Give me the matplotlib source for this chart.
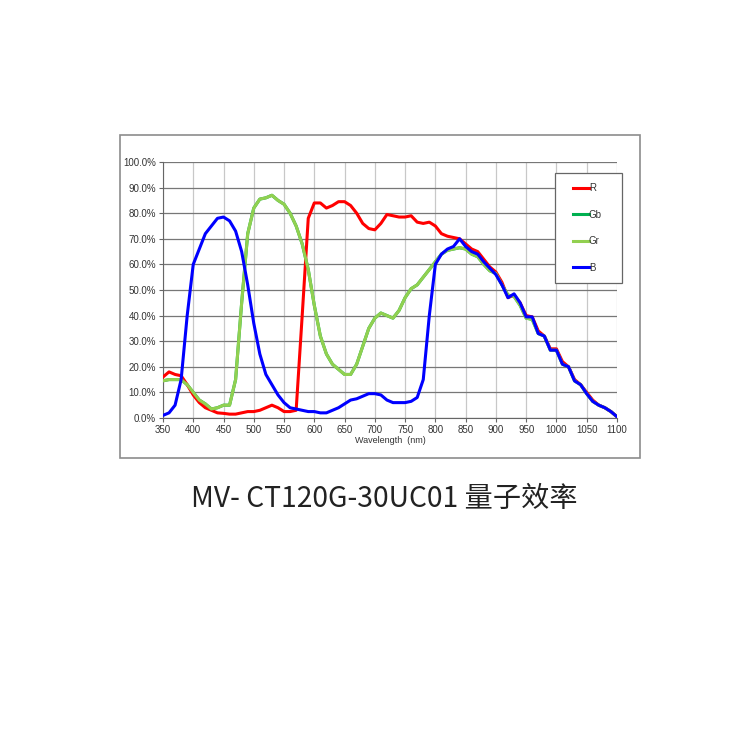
import matplotlib.pyplot as plt
from matplotlib.patches import Rectangle

# wavelength (nm) and quantum efficiency (%)
wl = [350, 360, 370, 380, 390, 400, 410, 420, 430, 440, 450, 460, 470, 480, 490,
      500, 510, 520, 530, 540, 550, 560, 570, 580, 590, 600, 610, 620, 630, 640,
      650, 660, 670, 680, 690, 700, 710, 720, 730, 740, 750, 760, 770, 780, 790,
      800, 810, 820, 830, 840, 850, 860, 870, 880, 890, 900, 910, 920, 930, 940,
      950, 960, 970, 980, 990, 1000, 1010, 1020, 1030, 1040, 1050, 1060, 1070,
      1080, 1090, 1100]

red = [16, 18, 17, 16.5, 13, 9, 6, 4, 3, 2, 1.8, 1.5, 1.5, 2, 2.5,
       2.5, 3, 4, 5, 4, 2.5, 2.5, 3, 40, 78, 84, 84, 82, 83, 84.5,
       84.5, 83, 80, 76, 74, 73.5, 76, 79.5, 79, 78.5, 78.5, 79, 76.5, 76, 76.5,
       75, 72, 71, 70.5, 70, 68, 66, 65, 62, 59, 57, 53, 47, 48, 45,
       40, 39.5, 34, 32, 27, 27, 22, 20, 15, 13, 10, 7, 5,
       4, 2.5, 0.5]

gr = [14.5, 15, 15, 15, 13, 10, 7, 5.5, 3.5, 4, 5, 5, 15, 45, 72,
      82, 85.5, 86, 87, 85, 83.5, 80, 75, 68, 58, 44, 32, 25, 21, 19,
      17, 17, 21, 28, 35, 39, 41, 40, 39, 42, 47, 50.5, 52, 55, 58,
      61, 64, 65.5, 66, 66.5, 66, 64, 63, 60, 57.5, 56.5, 52, 48, 47.5, 44,
      39, 38.5, 33, 32, 26.5, 26.5, 21, 20, 14.5, 13, 9.5, 6.5, 5,
      4, 2.5, 0.5]

gb = list(gr)

blue = [1, 2, 5, 15, 40, 60, 66, 72, 75, 78, 78.5, 77, 73, 65, 52,
        37, 25, 17, 13, 9, 6, 4, 3.5, 3, 2.5, 2.5, 2, 2, 3, 4,
        5.5, 7, 7.5, 8.5, 9.5, 9.5, 9, 7, 6, 6, 6, 6.5, 8, 15, 40,
        60, 64, 66, 67, 70, 67, 65, 64, 61, 58.5, 56, 52, 47, 48.5, 45,
        39.5, 39.5, 33, 32, 26.5, 26.5, 21, 20, 14.5, 13, 9.5, 6.5, 5,
        4, 2.5, 0.5]

xticks = list(range(350, 1101, 50))
yticks = list(range(0, 101, 10))

small_font = ['Liberation Sans Narrow', 'Liberation Sans', 'DejaVu Sans']

fig = plt.figure(figsize=(7.5, 7.5), dpi=100)
fig.patches.append(Rectangle((0.16, 0.3893), 0.6933, 0.4307, transform=fig.transFigure,
                             fill=False, edgecolor='#8c8c8c', linewidth=1.2))

ax = fig.add_axes([0.2173, 0.4427, 0.6053, 0.3413])
ax.plot(wl, red, color='#ff0000', lw=2.2, label='R', zorder=3)
ax.plot(wl, gb, color='#00b050', lw=2.2, label='Gb', zorder=2)
ax.plot(wl, gr, color='#92d050', lw=2.2, label='Gr', zorder=3)
ax.plot(wl, blue, color='#0000ff', lw=2.2, label='B', zorder=4)

ax.set_xlim(350, 1100)
ax.set_ylim(0, 100)
ax.set_xticks(xticks)
ax.set_yticks(yticks)
ax.set_xticklabels([str(t) for t in xticks], family=small_font, fontsize=7, color='#333333')
ax.set_yticklabels([f'{t:.1f}%' for t in yticks], family=small_font, fontsize=7, color='#333333')
ax.tick_params(axis='both', length=3, color='#666666', pad=2)
ax.xaxis.grid(True, color='#c8c8c8', lw=0.9)
ax.yaxis.grid(True, color='#777777', lw=0.9)
ax.set_axisbelow(True)
for s in ['top', 'right']:
    ax.spines[s].set_visible(False)
ax.spines['left'].set_color('#666666')
ax.spines['bottom'].set_color('#666666')
ax.set_xlabel('Wavelength  (nm)', family=small_font, fontsize=6.5, color='#333333', labelpad=1)

# legend box drawn separately so it can be wider than the entries
ax.add_patch(Rectangle((0.863, 0.527), 0.148, 0.43, transform=ax.transAxes, clip_on=False,
                       facecolor='white', edgecolor='#666666', linewidth=0.9, zorder=5))
leg = ax.legend(loc='upper left', bbox_to_anchor=(0.893, 0.937), frameon=False,
                handlelength=1.6, handletextpad=0.0, labelspacing=1.7, borderpad=0,
                prop={'family': small_font, 'size': 7})
leg.set_zorder(6)
for t in leg.get_texts():
    t.set_color('#333333')

fig.text(0.512, 0.335, 'MV- CT120G-30UC01 量子效率', ha='center', va='center',
         fontsize=20.3, color='#222222', family=['Noto Sans CJK SC', 'DejaVu Sans'])

fig.savefig('out.png', dpi=100)
